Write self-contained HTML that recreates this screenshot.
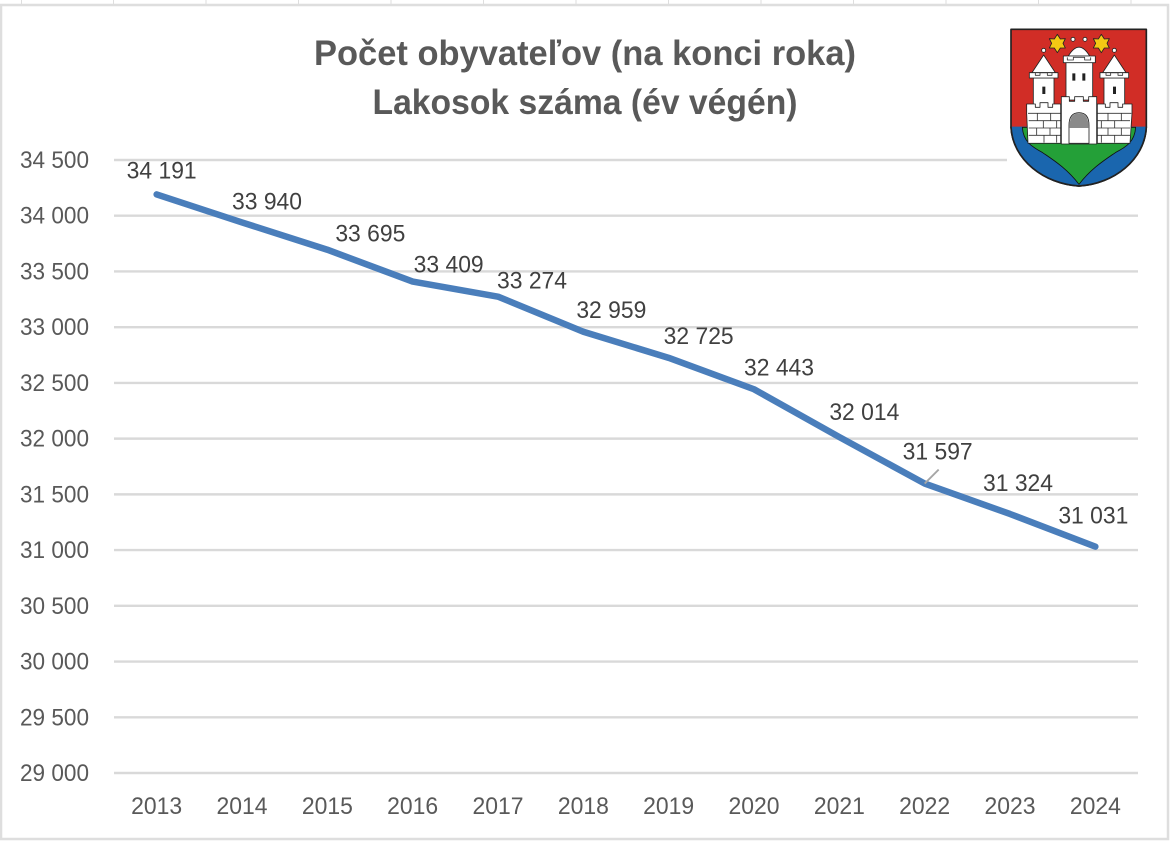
<!DOCTYPE html>
<html lang="sk">
<head>
<meta charset="utf-8">
<title>Počet obyvateľov</title>
<style>
html,body{margin:0;padding:0;background:#fff;}
svg{display:block;}
text{font-family:"Liberation Sans",sans-serif;}
</style>
</head>
<body>
<svg id="chart" width="1170" height="841" viewBox="0 0 1170 841" xmlns="http://www.w3.org/2000/svg">
  <rect width="1170" height="841" fill="#fff"/>
  <g id="frame" stroke="#dedede" fill="none">
    <path d="M21.5 0V5M113.5 0V5M206 0V5M298.5 0V5M391 0V5M483.5 0V5M576 0V5M668.5 0V5M761 0V5M853.5 0V5M946 0V5M1038.5 0V5M1131 0V5" stroke-width="1"/>
    <rect x="1" y="5" width="1167" height="834" stroke-width="2.5"/>
  </g>
  <g id="grid"></g>
  <g id="y-axis"></g>
  <g id="x-axis"></g>
  <g id="series"></g>
  <text x="585" y="65" text-anchor="middle" font-size="35" font-weight="700" fill="#595959" textLength="542" lengthAdjust="spacingAndGlyphs">Počet obyvateľov (na konci roka)</text>
  <text x="585" y="114" text-anchor="middle" font-size="35" font-weight="700" fill="#595959" textLength="425" lengthAdjust="spacingAndGlyphs">Lakosok száma (év végén)</text>

  <g>
    <rect x="1007" y="24" width="145" height="168" fill="#fff"/>
    <g transform="translate(990 0) scale(0.33333)" stroke-linejoin="round">
      <path d="M63 88H469V380C465 480 370 552 267 558C164 552 67 480 63 380Z" fill="#d12d26" stroke="#222" stroke-width="5"/>
      <path d="M65 380H467C463 480 370 550 267 556C164 550 69 480 65 380Z" fill="#1a66ae"/>
      <path d="M97 382C100 425 125 440 158 458C190 480 230 505 267 553C304 505 344 480 376 458C410 440 434 425 437 382Z" fill="#24a038" stroke="#111" stroke-width="2.5"/>
      <path d="M63 380C67 480 164 552 267 558C370 552 465 480 469 380" fill="none" stroke="#222" stroke-width="5"/>
      <path d="M202 103L211 117L226 116L219 130L226 144L211 144L202 158L193 144L178 144L185 130L178 116L193 117Z" fill="#f4c814" stroke="#222" stroke-width="2.5"/>
      <path d="M334 103L343 117L358 116L351 130L358 144L343 144L334 158L325 144L310 144L317 130L310 116L325 117Z" fill="#f4c814" stroke="#222" stroke-width="2.5"/>
      <g fill="#fff" stroke="#222" stroke-width="2.5">
        <circle cx="161" cy="151" r="6"/><circle cx="373" cy="151" r="6"/>
        <circle cx="249" cy="118" r="6"/><circle cx="285" cy="118" r="6"/>
        <path d="M161 165L196 218H126Z"/>
        <path d="M373 165L408 218H338Z"/>
        <path d="M235 168Q267 115 299 168Z"/>
        <path d="M130 234H192V330H130Z"/>
        <path d="M342 234H404V330H342Z"/>
        <path d="M118 218H204V234H118Z"/>
        <path d="M330 218H416V234H330Z"/>
        <path d="M228 186H308V300H228Z"/>
        <path d="M220 168H316V188H220Z"/>
        <path d="M110 312H136V322H150V308H174V322H188V312H212V430H114L110 340Z"/>
        <path d="M322 312H346V322H360V308H384V322H398V312H426V340L420 430H322Z"/>
        <path d="M214 290H238V304H254V290H280V304H296V290H320V432H214Z"/>
      </g>
      <g fill="none" stroke="#333" stroke-width="2.5">
        <path d="M114 340H212M322 340H424M116 362H212M322 362H420M116 384H212M322 384H420M116 406H212M322 406H420"/>
        <path d="M142 340V362M182 340V362M160 362V384M200 362V384M140 384V406M180 384V406M162 406V428M200 406V428"/>
        <path d="M354 340V362M394 340V362M334 362V384M374 362V384M354 384V406M394 384V406M334 406V428M374 406V428"/>
        <path d="M136 218V226H150V218H172V226H186V218M348 218V226H362V218H384V226H398V218M232 172V180H250V172H284V180H302V172"/>
      </g>
      <path d="M237 430V376Q237 338 267 338Q297 338 297 376V430Z" fill="#fff" stroke="#222" stroke-width="2.5"/>
      <path d="M239 384V376Q239 340 267 340Q295 340 295 376V384Z" fill="#8a8a8a"/>
      <path d="M247 220h9v22h-9zM277 220h9v22h-9zM157 260h9v22h-9zM369 260h9v22h-9z" fill="#222"/>
    </g>
  </g>
</svg>
<script>
const categories = ["2013","2014","2015","2016","2017","2018","2019","2020","2021","2022","2023","2024"];
const population = [34191,33940,33695,33409,33274,32959,32725,32443,32014,31597,31324,31031];
const valueLabels = ["34 191","33 940","33 695","33 409","33 274","32 959","32 725","32 443","32 014","31 597","31 324","31 031"];
const yTicks = [34500,34000,33500,33000,32500,32000,31500,31000,30500,30000,29500,29000];
const yTickLabels = ["34 500","34 000","33 500","33 000","32 500","32 000","31 500","31 000","30 500","30 000","29 500","29 000"];
const labelNudgeX = [5,25,43,36,34,28,30,25,25,13,8,-2];
const labelNudgeY = [-24,-21,-16,-17,-16,-22,-22,-22,-25,-32,-31,-31];

const NS = "http://www.w3.org/2000/svg";
const plot = {left:114, right:1138, top:160, bottom:773, min:29000, max:34500};
function xScale(i){ return plot.left + (i + 0.5) * (plot.right - plot.left) / categories.length; }
function yScale(v){ return plot.bottom - (v - plot.min) * (plot.bottom - plot.top) / (plot.max - plot.min); }
function make(tag, attrs, parent, txt){
  const el = document.createElementNS(NS, tag);
  for (const k in attrs) el.setAttribute(k, attrs[k]);
  if (txt !== undefined) el.textContent = txt;
  parent.appendChild(el);
  return el;
}
const gridG = document.getElementById("grid");
const yG = document.getElementById("y-axis");
const xG = document.getElementById("x-axis");
const sG = document.getElementById("series");

yTicks.forEach(function(t, i){
  const y = yScale(t);
  const line = make("line", {x1:plot.left, x2: t === 34500 ? 1007 : plot.right, y1:y, y2:y, stroke:"#d9d9d9", "stroke-width":2.4}, gridG);
  
  
  const lab = make("text", {x:89, y:y + 8, "text-anchor":"end", "font-size":24, fill:"#595959", textLength:69, lengthAdjust:"spacingAndGlyphs"}, yG, yTickLabels[i]);
  
  
});
categories.forEach(function(c, i){
  const lab = make("text", {x:xScale(i), y:814, "text-anchor":"middle", "font-size":24, fill:"#595959", textLength:51, lengthAdjust:"spacingAndGlyphs"}, xG, c);
  
  
});
const pts = population.map(function(v, i){ return xScale(i) + "," + yScale(v); }).join(" ");
const poly = make("polyline", {points:pts, fill:"none", stroke:"#4a7ebb", "stroke-width":6.5, "stroke-linecap":"round", "stroke-linejoin":"round"}, sG);



const lx = xScale(9), ly = yScale(population[9]);
const leader = make("line", {x1:lx, y1:ly, x2:lx + 14, y2:ly - 14, stroke:"#a6a6a6", "stroke-width":1.8}, sG);



population.forEach(function(v, i){
  const t = make("text", {x:xScale(i) + labelNudgeX[i], y:yScale(v) + labelNudgeY[i] + 8, "text-anchor":"middle", "font-size":24, fill:"#404040", textLength:70, lengthAdjust:"spacingAndGlyphs"}, sG, valueLabels[i]);
  
  
});
</script>
</body>
</html>
